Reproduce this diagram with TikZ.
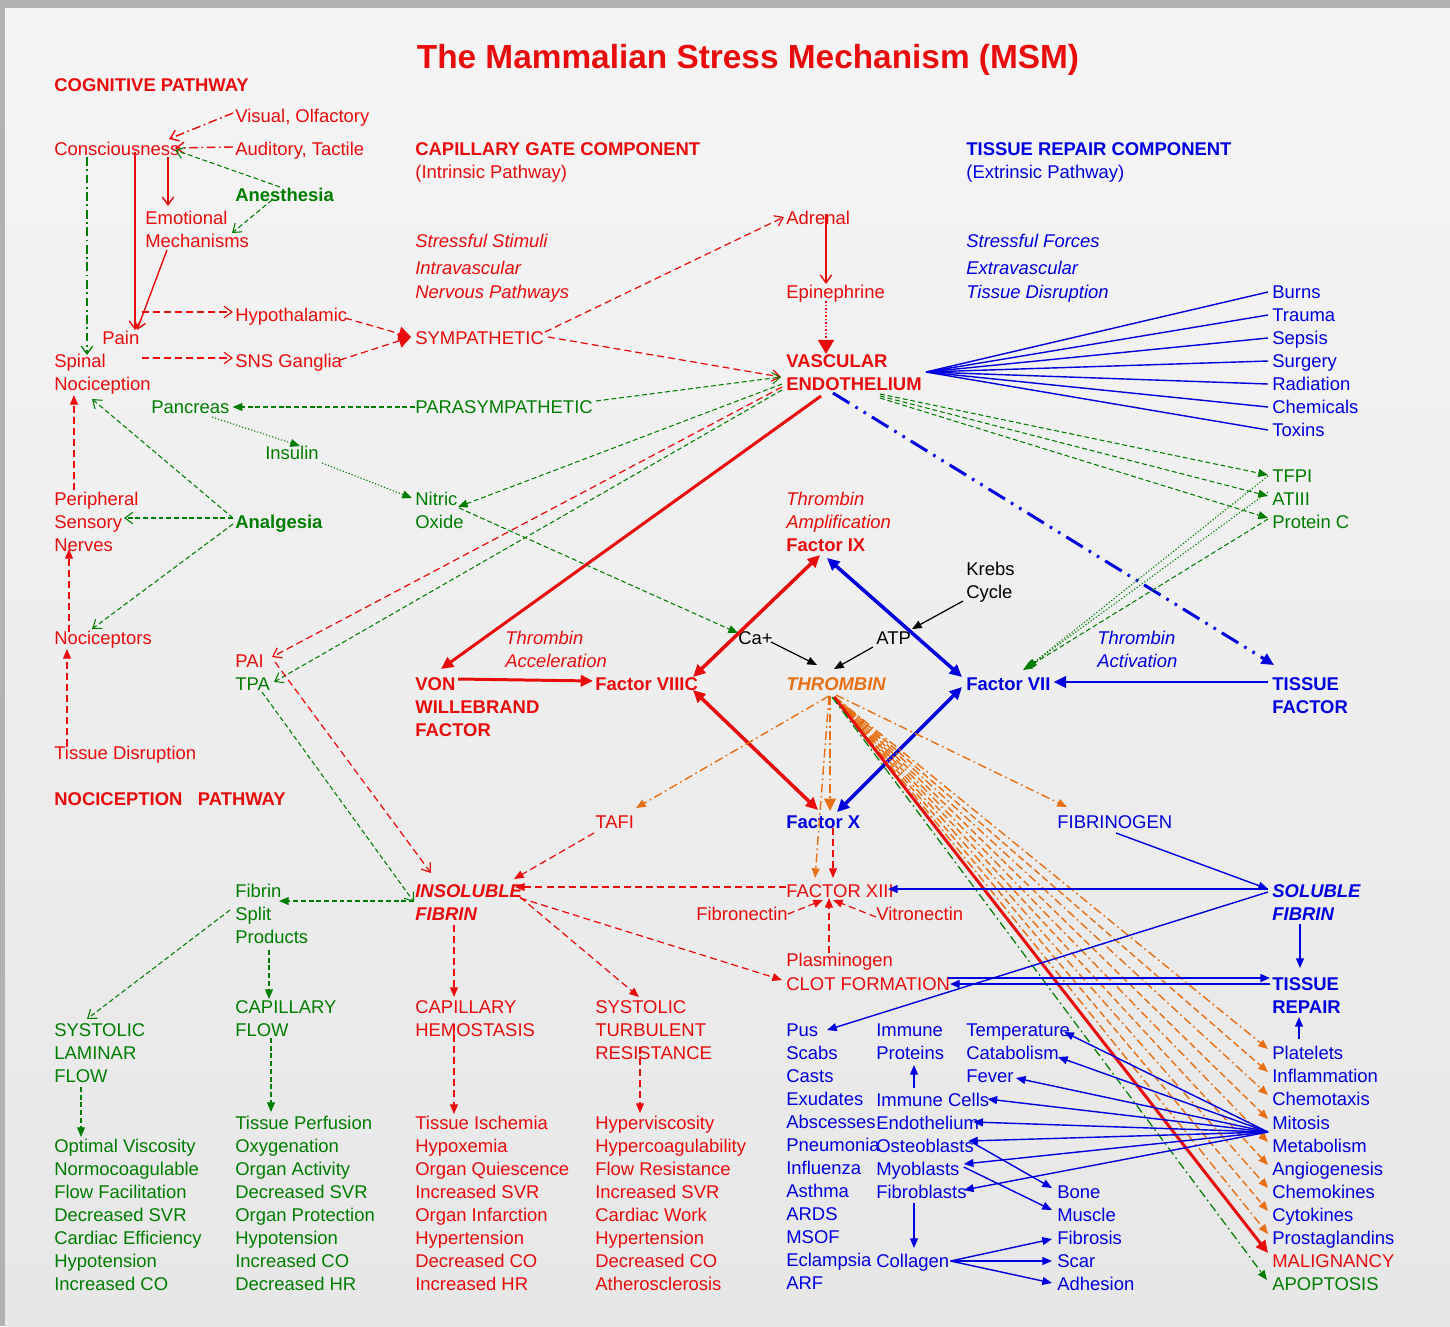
\documentclass[tikz,border=0pt]{standalone}
\usepackage{fontspec}
\setmainfont{Liberation Sans}
\usetikzlibrary{arrows.meta,calc}
\definecolor{cR}{RGB}{232,12,12}
\definecolor{cG}{RGB}{0,125,0}
\definecolor{cB}{RGB}{0,0,222}
\definecolor{cO}{RGB}{232,112,20}
\newcommand\fs{\fontsize{10.5}{13.1}\selectfont}
\begin{document}
\begin{tikzpicture}[x=0.02cm,y=-0.02cm,
  tx/.style={inner sep=0pt,font=\fs},
  lab/.style={tx,anchor=west,text height=8pt,text depth=0.5pt},
  mlab/.style={tx,anchor=north west,align=left},
  bf/.style={font=\fs\bfseries},
  it/.style={font=\fs\itshape},
  bi/.style={font=\fs\bfseries\itshape},
  R/.style={text=cR}, G/.style={text=cG}, B/.style={text=cB}, K/.style={text=black}, O/.style={text=cO},
  oa/.style={-{Straight Barb[length=4.5pt,width=6.5pt]}},
  fa/.style={-{Triangle[length=5.5pt,width=4.5pt]}},
  fab/.style={-{Triangle[length=7pt,width=6.5pt]}},
  fasy/.style={-{Triangle[length=7pt,width=8pt]}},
  dfab/.style={{Triangle[length=7pt,width=6.5pt]}-{Triangle[length=7pt,width=6.5pt]}},
  rd/.style={color=cR,line width=0.7pt,dash pattern=on 4pt off 2.3pt},
  gd/.style={color=cG,line width=0.6pt,dash pattern=on 2.8pt off 1.6pt},
  gdot/.style={color=cG,line width=0.6pt,dash pattern=on 0.7pt off 1.1pt},
  rdd/.style={color=cR,line width=0.8pt,dash pattern=on 5pt off 2pt on 1pt off 2pt},
  gdd/.style={color=cG,line width=0.7pt,dash pattern=on 5pt off 2pt on 1pt off 2pt},
  odd/.style={color=cO,line width=0.8pt,dash pattern=on 5pt off 2pt on 1pt off 2pt},
  od/.style={color=cO,line width=0.8pt,dash pattern=on 4pt off 2pt},
  rs/.style={color=cR,line width=0.8pt},
  bs/.style={color=cB,line width=0.8pt},
  ks/.style={color=black,line width=0.7pt},
  rthick/.style={color=cR,line width=2pt},
  bthick/.style={color=cB,line width=2pt},
  bdd/.style={color=cB,line width=1.7pt,dash pattern=on 11pt off 4pt on 1.5pt off 4pt on 1.5pt off 4pt}
]
\useasboundingbox (0,0) rectangle (1450,1326);
\fill[gray!60] (0,0) rectangle (1450,1326);
\shade[top color=gray!8, bottom color=gray!19] (5,8) rectangle (1450,1326);

% ---------- title ----------
\node[anchor=base,inner sep=0pt,font=\fontsize{19}{23}\selectfont\bfseries,text=cR] (title) at (748,68) {The Mammalian Stress Mechanism (MSM)};

% ---------- left ----------
\node[lab,bf,R] (cogp) at (54,85) {COGNITIVE\ PATHWAY};
\node[lab,R] (consc) at (54,149) {Consciousness};
\node[lab,R] (visual) at (235,116) {Visual, Olfactory};
\node[lab,R] (audit) at (235,149) {Auditory, Tactile};
\node[lab,bf,G] (anest) at (235,195) {Anesthesia};
\node[mlab,R] (emot) at (145,211) {Emotional\\Mechanisms};
\node[lab,R] (pain) at (102,338) {Pain};
\node[mlab,R] (spinal) at (54,354) {Spinal\\Nociception};
\node[lab,R] (hypo) at (235,315) {Hypothalamic};
\node[lab,R] (sns) at (235,361) {SNS Ganglia};
\node[lab,G] (pancreas) at (151,407) {Pancreas};
\node[lab,G] (insulin) at (265,453) {Insulin};
\node[mlab,R] (periph) at (54,492) {Peripheral\\Sensory\\Nerves};
\node[lab,bf,G] (analg) at (235,522) {Analgesia};
\node[lab,R] (nocic) at (54,638) {Nociceptors};
\node[lab,R] (tissdis) at (54,753) {Tissue Disruption};
\node[lab,bf,R] (nocip) at (54,799) {NOCICEPTION\ \ \ PATHWAY};
\node[lab,R] (pai) at (235,661) {PAI};
\node[lab,G] (tpa) at (235,684) {TPA};

% ---------- middle ----------
\node[lab,bf,R] (capgate) at (415,149) {CAPILLARY GATE COMPONENT};
\node[lab,R] (intr) at (415,172) {(Intrinsic Pathway)};
\node[lab,it,R] (ss) at (415,241) {Stressful Stimuli};
\node[lab,it,R] (iv) at (415,268) {Intravascular};
\node[lab,it,R] (np) at (415,292) {Nervous Pathways};
\node[lab,R] (symp) at (415,338) {SYMPATHETIC};
\node[lab,G] (para) at (415,407) {PARASYMPATHETIC};
\node[mlab,G] (nitric) at (415,492) {Nitric\\Oxide};
\node[mlab,bf,R] (von) at (415,677) {VON\\WILLEBRAND\\FACTOR};
\node[mlab,it,R] (thracc) at (505,631) {Thrombin\\Acceleration};
\node[lab,bf,R] (f8) at (595,684) {Factor VIIIC};
\node[lab,R] (tafi) at (595,822) {TAFI};
\node[mlab,bi,R] (insol) at (415,884) {INSOLUBLE\\FIBRIN};
\node[mlab,G] (fsp) at (235,884) {Fibrin\\Split\\Products};
\node[mlab,G] (capflow) at (235,1000) {CAPILLARY\\FLOW};
\node[mlab,G] (slf) at (54,1023) {SYSTOLIC\\LAMINAR\\FLOW};
\node[mlab,R] (caphem) at (415,1000) {CAPILLARY\\HEMOSTASIS};
\node[mlab,R] (str) at (595,1000) {SYSTOLIC\\TURBULENT\\RESISTANCE};
\node[mlab,G] (list1) at (54,1139) {Optimal Viscosity\\Normocoagulable\\Flow Facilitation\\Decreased SVR\\Cardiac Efficiency\\Hypotension\\Increased CO};
\node[mlab,G] (list2) at (235,1116) {Tissue Perfusion\\Oxygenation\\Organ Activity\\Decreased SVR\\Organ Protection\\Hypotension\\Increased CO\\Decreased HR};
\node[mlab,R] (list3) at (415,1116) {Tissue Ischemia\\Hypoxemia\\Organ Quiescence\\Increased SVR\\Organ Infarction\\Hypertension\\Decreased CO\\Increased HR};
\node[mlab,R] (list4) at (595,1116) {Hyperviscosity\\Hypercoagulability\\Flow Resistance\\Increased SVR\\Cardiac Work\\Hypertension\\Decreased CO\\Atherosclerosis};

% ---------- center ----------
\node[lab,R] (adrenal) at (786,218) {Adrenal};
\node[lab,R] (epi) at (786,292) {Epinephrine};
\node[mlab,bf,R] (vasc) at (786,354) {VASCULAR\\ENDOTHELIUM};
\node[mlab,it,R] (thramp) at (786,492) {Thrombin\\Amplification};
\node[lab,bf,R] (f9) at (786,545) {Factor IX};
\node[mlab,K] (krebs) at (966,562) {Krebs\\Cycle};
\node[lab,K] (ca) at (738,638) {Ca+};
\node[lab,K] (atp) at (876,638) {ATP};
\node[lab,bi,O] (thrombin) at (786,684) {THROMBIN};
\node[lab,bf,B] (f7) at (966,684) {Factor VII};
\node[mlab,it,B] (thract) at (1097,631) {Thrombin\\Activation};
\node[mlab,bf,B] (tf) at (1272,677) {TISSUE\\FACTOR};
\node[lab,bf,B] (f10) at (786,822) {Factor X};
\node[lab,B] (fibrinogen) at (1057,822) {FIBRINOGEN};
\node[lab,R] (f13) at (786,891) {FACTOR XIII};
\node[lab,R] (fibronectin) at (696,914) {Fibronectin};
\node[lab,R] (vitro) at (876,914) {Vitronectin};
\node[lab,R] (plasm) at (786,960) {Plasminogen};
\node[lab,R] (clot) at (786,984) {CLOT FORMATION};
\node[mlab,bi,B] (solf) at (1272,884) {SOLUBLE\\FIBRIN};
\node[mlab,bf,B] (trep) at (1272,977) {TISSUE\\REPAIR};

% ---------- right ----------
\node[lab,bf,B] (trc) at (966,149) {TISSUE REPAIR COMPONENT};
\node[lab,B] (extr) at (966,172) {(Extrinsic Pathway)};
\node[lab,it,B] (sf) at (966,241) {Stressful Forces};
\node[lab,it,B] (ev) at (966,268) {Extravascular};
\node[lab,it,B] (td) at (966,292) {Tissue Disruption};
\node[lab,B] (burns) at (1272,292) {Burns};
\node[lab,B] (trauma) at (1272,315) {Trauma};
\node[lab,B] (sepsis) at (1272,338) {Sepsis};
\node[lab,B] (surgery) at (1272,361) {Surgery};
\node[lab,B] (radiation) at (1272,384) {Radiation};
\node[lab,B] (chemicals) at (1272,407) {Chemicals};
\node[lab,B] (toxins) at (1272,430) {Toxins};
\node[lab,G] (tfpi) at (1272,476) {TFPI};
\node[lab,G] (atiii) at (1272,499) {ATIII};
\node[lab,G] (protc) at (1272,522) {Protein C};

% ---------- bottom right ----------
\node[mlab,B] (dis) at (786,1023) {Pus\\Scabs\\Casts\\Exudates\\Abscesses\\Pneumonia\\Influenza\\Asthma\\ARDS\\MSOF\\Eclampsia\\ARF};
\node[mlab,B] (immprot) at (876,1023) {Immune\\Proteins};
\node[lab,B] (immcells) at (876,1100) {Immune Cells};
\node[lab,B] (endo) at (876,1123) {Endothelium};
\node[lab,B] (osteo) at (876,1146) {Osteoblasts};
\node[lab,B] (myo) at (876,1169) {Myoblasts};
\node[lab,B] (fibro) at (876,1192) {Fibroblasts};
\node[lab,B] (collagen) at (876,1261) {Collagen};
\node[lab,B] (temp) at (966,1030) {Temperature};
\node[lab,B] (catab) at (966,1053) {Catabolism};
\node[lab,B] (fever) at (966,1076) {Fever};
\node[lab,B] (bone) at (1057,1192) {Bone};
\node[lab,B] (muscle) at (1057,1215) {Muscle};
\node[lab,B] (fibrosis) at (1057,1238) {Fibrosis};
\node[lab,B] (scar) at (1057,1261) {Scar};
\node[lab,B] (adhesion) at (1057,1284) {Adhesion};
\node[lab,B] (platelets) at (1272,1053) {Platelets};
\node[lab,B] (inflam) at (1272,1076) {Inflammation};
\node[lab,B] (chemotaxis) at (1272,1099) {Chemotaxis};
\node[lab,B] (mitosis) at (1272,1123) {Mitosis};
\node[lab,B] (metab) at (1272,1146) {Metabolism};
\node[lab,B] (angio) at (1272,1169) {Angiogenesis};
\node[lab,B] (chemok) at (1272,1192) {Chemokines};
\node[lab,B] (cytok) at (1272,1215) {Cytokines};
\node[lab,B] (prosta) at (1272,1238) {Prostaglandins};
\node[lab,R] (malig) at (1272,1261) {MALIGNANCY};
\node[lab,G] (apop) at (1272,1284) {APOPTOSIS};

% =========== connectors ===========
% cognitive pathway
\draw[rdd,oa] ($(visual.west)+(-2,-3)$) -- ($(consc.west)+(115,-10)$);
\draw[rdd,oa] ($(audit.west)+(-2,-2)$) -- ($(consc.west)+(121,-1)$);
\draw[gd,oa] ($(anest.west)+(45,-8)$) -- ($(consc.west)+(121,1)$);
\draw[gd,oa] ($(anest.west)+(37,5)$) -- ($(emot.north west)+(87,22)$);
\draw[rs,oa] ($(consc.west)+(114,8)$) -- ($(emot.north west)+(23,-5)$);
\draw[rs,oa] ($(consc.west)+(81,3)$) -- ($(pain.west)+(33,-8)$);
\draw[rs,oa] ($(emot.north west)+(22,39)$) -- ($(pain.west)+(35,-8)$);
\draw[gdd,oa] ($(consc.west)+(33,8)$) -- ($(spinal.north west)+(33,1)$);
\draw[rd,oa] ($(pain.west)+(40,-26)$) -- ($(hypo.west)+(-2,-3)$);
\draw[rd,oa] ($(spinal.north west)+(88,4)$) -- ($(sns.west)+(-2,-3)$);
\draw[rd,fasy] ($(hypo.west)+(110,3)$) -- ($(symp.west)+(-4,-1)$);
\draw[rd,fasy] ($(sns.west)+(105,-1)$) -- ($(symp.west)+(-4,-1)$);

% nociception pathway
\draw[rd,fa] ($(periph.north west)+(20,-2)$) -- ($(spinal.north west)+(20,41)$);
\draw[rd,fa] ($(nocic.west)+(15,-6)$) -- ($(periph.north west)+(15,57)$);
\draw[rd,fa] ($(tissdis.west)+(13,-7)$) -- ($(nocic.west)+(13,11)$);
\draw[gd,oa] ($(analg.west)+(-2,-4)$) -- ($(spinal.north west)+(38,45)$);
\draw[gd,oa] ($(analg.west)+(-2,-4)$) -- ($(periph.north west)+(70,26)$);
\draw[gd,oa] ($(analg.west)+(-2,2)$) -- ($(nocic.west)+(38,-9)$);

% sympathetic / parasympathetic
\draw[rd,oa] ($(symp.west)+(130,-6)$) -- ($(adrenal.west)+(-2,-1)$);
\draw[rd,oa] ($(symp.west)+(133,-1)$) -- ($(vasc.north west)+(-5,23)$);
\draw[rs,oa] ($(adrenal.west)+(40,-4)$) -- ($(epi.west)+(40,-8)$);
\draw[color=cR,line width=1.3pt,dash pattern=on 1pt off 1pt,-{Triangle[length=8pt,width=9pt]}] ($(epi.west)+(40,9)$) -- ($(vasc.north west)+(40,0)$);
\draw[gd,oa] ($(para.west)+(181,-6)$) -- ($(vasc.north west)+(-5,23)$);
\draw[gd,fa] (para.west) -- ($(pancreas.east)+(3,0)$);
\draw[gd,fa] ($(vasc.north west)+(-4,30)$) -- ($(nitric.north west)+(43,15)$);
\draw[rd,oa] ($(vasc.north west)+(-4,33)$) -- ($(pai.west)+(37,-4)$);
\draw[gd,oa] ($(vasc.north west)+(-4,36)$) -- ($(tpa.west)+(39,-2)$);
\draw[gdot,fa] ($(pancreas.west)+(61,10)$) -- ($(insulin.west)+(35,-7)$);
\draw[gdot,fa] ($(insulin.west)+(57,10)$) -- ($(nitric.north west)+(-3,6)$);
\draw[gd,fa] ($(nitric.north west)+(44,16)$) -- ($(ca.west)+(0,-5)$);

% coagulation diamond
\draw[color=cR,line width=1.7pt,fab] ($(vasc.north west)+(35,42)$) -- ($(von.north west)+(26,-8)$);
\draw[color=cR,line width=1.7pt,fab] ($(von.north west)+(43,2)$) -- ($(f8.west)+(-2,-3)$);
\draw[rthick,dfab] ($(f8.west)+(98,-7)$) -- ($(f9.west)+(34,10)$);
\draw[bthick,dfab] ($(f9.west)+(41,13)$) -- ($(f7.west)+(-4,-7)$);
\draw[rthick,dfab] ($(f8.west)+(98,6)$) -- ($(f10.west)+(32,-12)$);
\draw[bthick,dfab] ($(f7.west)+(-4,3)$) -- ($(f10.west)+(51,-10)$);
\draw[ks,fa] ($(krebs.north west)+(-3,39)$) -- ($(atp.west)+(36,-9)$);
\draw[ks,fa] ($(ca.west)+(33,4)$) -- ($(thrombin.west)+(31,-19)$);
\draw[ks,fa] ($(atp.west)+(-3,9)$) -- ($(thrombin.west)+(48,-15)$);
\draw[color=cB,line width=1.4pt,fab] ($(tf.north west)+(-4,5)$) -- ($(f7.east)+(3,-2)$);
\draw[bdd,fab] ($(vasc.north west)+(47,39)$) -- ($(tf.north west)+(2,-12)$);

% endothelium to inhibitors
\draw[gd,fa] ($(vasc.north west)+(94,40)$) -- ($(tfpi.west)+(-4,-1)$);
\draw[gd,fa] ($(vasc.north west)+(94,42)$) -- ($(atiii.west)+(-4,-3)$);
\draw[gd,fa] ($(vasc.north west)+(94,44)$) -- ($(protc.west)+(-4,-4)$);
\draw[gdot,fa] ($(tfpi.west)+(-4,0)$) -- ($(f7.west)+(61,-16)$);
\draw[gdot,fa] ($(atiii.west)+(-4,-7)$) -- ($(f7.west)+(59,-15)$);
\draw[gd,fa] ($(protc.west)+(-4,-3)$) -- ($(f7.west)+(57,-14)$);

% stressful forces fan
\foreach \n in {burns,trauma,sepsis,surgery,radiation,chemicals,toxins}
  \draw[bs] ($(vasc.north west)+(140,18)$) -- ($(\n.west)+(-4,0)$);

% thrombin outputs
\draw[odd,fa] ($(thrombin.west)+(43,12)$) -- ($(tafi.west)+(41,-14)$);
\draw[odd,line width=1.2pt,fab] ($(thrombin.west)+(44,12)$) -- ($(f10.west)+(44,-11)$);
\draw[odd,fa] ($(thrombin.west)+(43,12)$) -- ($(f13.west)+(29,-13)$);
\draw[rd,fa] ($(f10.west)+(47,6)$) -- ($(f13.west)+(47,-13)$);
\draw[odd,fa] ($(thrombin.west)+(50,11)$) -- ($(fibrinogen.west)+(10,-15)$);
\foreach \n in {platelets,chemotaxis,metab,chemok,prosta}
  \draw[odd,fa] ($(thrombin.west)+(49,13)$) -- ($(\n.west)+(-4,-4)$);
\foreach \n in {inflam,mitosis,angio,cytok}
  \draw[od,fa] ($(thrombin.west)+(49,13)$) -- ($(\n.west)+(-4,-4)$);
\draw[color=cR,line width=1.7pt,fab] ($(thrombin.west)+(48,13)$) -- ($(malig.west)+(-4,-8)$);
\draw[gdd,fa] ($(thrombin.west)+(46,13)$) -- ($(apop.west)+(-5,-4)$);

% insoluble fibrin
\draw[rd,fa] ($(tafi.west)+(-1,11)$) -- ($(insol.north west)+(99,-5)$);
\draw[rd,fa] ($(f13.west)+(0,-4)$) -- ($(insol.north west)+(100,3)$);
\draw[rd,oa] ($(pai.west)+(40,1)$) -- ($(insol.north west)+(16,-11)$);
\draw[gd,oa] ($(tpa.west)+(27,8)$) -- ($(insol.north west)+(-1,18)$);
\draw[gd,fa] ($(insol.north west)+(-1,17)$) -- ($(fsp.north west)+(44,17)$);
\draw[gd,oa] ($(fsp.north west)+(-5,26)$) -- ($(slf.north west)+(33,-4)$);
\draw[gd,fa] ($(fsp.north west)+(34,66)$) -- ($(capflow.north west)+(34,-1)$);
\draw[gd,fa] ($(capflow.north west)+(36,38)$) -- ($(list2.north west)+(36,-4)$);
\draw[gd,fa] ($(slf.north west)+(27,64)$) -- ($(list1.north west)+(27,-2)$);
\draw[rd,fa] ($(insol.north west)+(39,41)$) -- ($(caphem.north west)+(39,-3)$);
\draw[rd,fa] ($(caphem.north west)+(39,24)$) -- ($(list3.north west)+(39,-2)$);
\draw[rd,fa] ($(insol.north west)+(105,13)$) -- ($(str.north west)+(44,-3)$);
\draw[rd,fa] ($(str.north west)+(45,47)$) -- ($(list4.north west)+(45,-3)$);
\draw[rd,fa] ($(insol.north west)+(105,14)$) -- ($(clot.west)+(-4,-4)$);

% factor XIII inputs
\draw[rd,fa] (fibronectin.east) -- ($(f13.west)+(37,9)$);
\draw[rd,fa] ($(vitro.west)+(0,3)$) -- ($(f13.west)+(47,9)$);
\draw[rd,fa] ($(plasm.west)+(43,-7)$) -- ($(f13.west)+(43,7)$);

% soluble fibrin / tissue repair
\draw[bs,fa] ($(solf.north west)+(-4,5)$) -- ($(f13.west)+(102,-2)$);
\draw[bs,fa] ($(fibrinogen.west)+(59,11)$) -- ($(solf.north west)+(-4,5)$);
\draw[bs,fa] ($(solf.north west)+(-4,8)$) -- ($(dis.north west)+(41,7)$);
\draw[bs,fa] ($(solf.north west)+(28,40)$) -- ($(trep.north west)+(28,-9)$);
\draw[bs,fa] ($(platelets.west)+(27,-14)$) -- ($(trep.north west)+(27,40)$);
\draw[color=cB,line width=1.1pt,fa] ($(clot.west)+(162,-6)$) -- ($(trep.north west)+(-2,1)$);
\draw[color=cB,line width=1.1pt,fa] ($(trep.north west)+(-2,7)$) -- ($(clot.west)+(164,0)$);

% tissue repair fan
\foreach \n/\dx/\dy in {temp/-6/2,catab/-1/4,fever/2/2,immcells/-2/-1,endo/-6/-1,osteo/-6/-5,myo/4/-5,fibro/-3/-2}
  \draw[bs,fa] ($(mitosis.west)+(-4,9)$) -- ($(\n.east)+(\dx,\dy)$);
\draw[bs,fa] ($(osteo.east)+(-1,-3)$) -- ($(bone.west)+(-5,-4)$);
\draw[bs,fa] ($(myo.east)+(4,-2)$) -- ($(muscle.west)+(-5,-5)$);
\draw[bs,fa] ($(collagen.east)+(1,0)$) -- ($(fibrosis.west)+(-5,1)$);
\draw[bs,fa] ($(collagen.east)+(1,0)$) -- ($(scar.west)+(-5,0)$);
\draw[bs,fa] ($(collagen.east)+(1,0)$) -- ($(adhesion.west)+(-5,-1)$);
\draw[bs,fa] ($(immcells.west)+(38,-12)$) -- ($(immprot.north west)+(38,42)$);
\draw[bs,fa] ($(fibro.west)+(38,11)$) -- ($(collagen.west)+(38,-13)$);
\end{tikzpicture}
\end{document}
